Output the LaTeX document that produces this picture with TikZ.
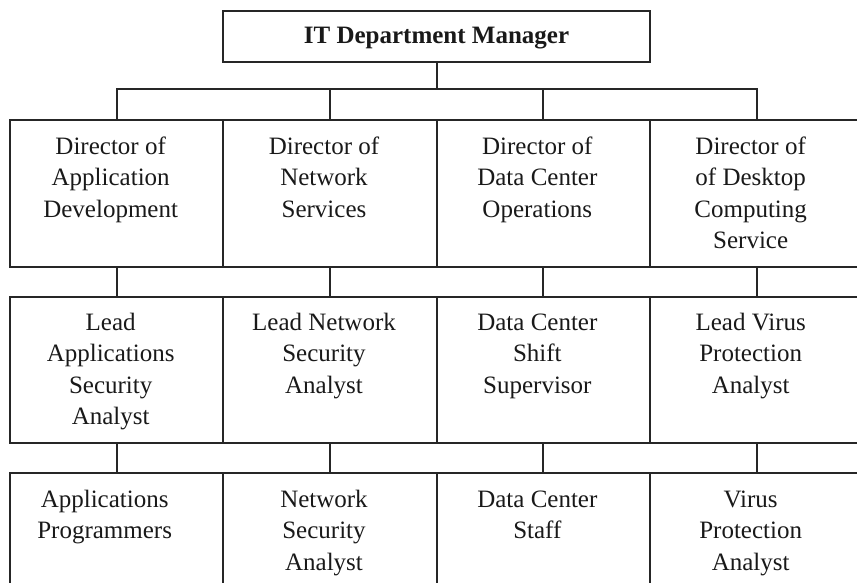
\documentclass[tikz,border=0pt]{standalone}
\usepackage{fontspec}
\setmainfont{Liberation Serif}
\begin{document}
\begin{tikzpicture}[x=1pt,y=-1pt,
  box/.style={draw=black!85,line width=2pt,rectangle,inner sep=0pt,minimum width=213.33pt,minimum height=147pt,anchor=north west},
  mgrbox/.style={draw=black!85,line width=2pt,rectangle,inner sep=0pt,minimum width=427pt,minimum height=51pt,anchor=north west},
  mgrtxt/.style={inner sep=0pt,anchor=base,font=\fontsize{25}{31.5}\selectfont\bfseries,text=black!90},
  lbl/.style={inner sep=0pt,anchor=north,align=center,font=\fontsize{25}{31.5}\selectfont,text=black!90},
  conn/.style={draw=black!85,line width=2pt}]
\useasboundingbox (0,0) rectangle (857,583);
\clip (0,0) rectangle (857,583);
\node[mgrbox] (mgr) at (222,10) {};
\node[mgrtxt] (mgrt) at ([yshift=-7.5pt]mgr.center) {IT Department Manager};
\coordinate (bus) at (0,89);
% row 1
\node[box] (d1) at (9,119) {};
\node[box] (d2) at (222.33,119) {};
\node[box] (d3) at (435.67,119) {};
\node[box] (d4) at (649,119) {};
% row 2
\node[box,minimum height=146pt] (l1) at (9,296) {};
\node[box,minimum height=146pt] (l2) at (222.33,296) {};
\node[box,minimum height=146pt] (l3) at (435.67,296) {};
\node[box,minimum height=146pt] (l4) at (649,296) {};
% row 3
\node[box] (s1) at (9,472) {};
\node[box] (s2) at (222.33,472) {};
\node[box] (s3) at (435.67,472) {};
\node[box] (s4) at (649,472) {};
% labels
\node[lbl] (td1) at ([xshift=-6pt,yshift=-13pt]d1.north) {\strut Director of\\Application\\Development};
\node[lbl] (td2) at ([xshift=-6pt,yshift=-13pt]d2.north) {\strut Director of\\Network\\Services};
\node[lbl] (td3) at ([xshift=-6pt,yshift=-13pt]d3.north) {\strut Director of\\Data Center\\Operations};
\node[lbl] (td4) at ([xshift=-6pt,yshift=-13pt]d4.north) {\strut Director of\\of Desktop\\Computing\\Service};
\node[lbl] (tl1) at ([xshift=-6pt,yshift=-12pt]l1.north) {\strut Lead\\Applications\\Security\\Analyst};
\node[lbl] (tl2) at ([xshift=-6pt,yshift=-12pt]l2.north) {\strut Lead Network\\Security\\Analyst};
\node[lbl] (tl3) at ([xshift=-6pt,yshift=-12pt]l3.north) {\strut Data Center\\Shift\\Supervisor};
\node[lbl] (tl4) at ([xshift=-6pt,yshift=-12pt]l4.north) {\strut Lead Virus\\Protection\\Analyst};
\node[lbl] (ts1) at ([xshift=-12pt,yshift=-13pt]s1.north) {\strut Applications\\Programmers};
\node[lbl] (ts2) at ([xshift=-6pt,yshift=-13pt]s2.north) {\strut Network\\Security\\Analyst};
\node[lbl] (ts3) at ([xshift=-6pt,yshift=-13pt]s3.north) {\strut Data Center\\Staff};
\node[lbl] (ts4) at ([xshift=-6pt,yshift=-13pt]s4.north) {\strut Virus\\Protection\\Analyst};
% connectors
\draw[conn] (mgr.south) -- (mgr.south |- bus);
\draw[conn] (d1.north) -- (d1.north |- bus) -- (d4.north |- bus) -- (d4.north);
\draw[conn] (d2.north) -- (d2.north |- bus);
\draw[conn] (d3.north) -- (d3.north |- bus);
\foreach \i in {1,2,3,4}{
  \draw[conn] (d\i.south) -- (l\i.north);
  \draw[conn] (l\i.south) -- (s\i.north);
}
\end{tikzpicture}
\end{document}
